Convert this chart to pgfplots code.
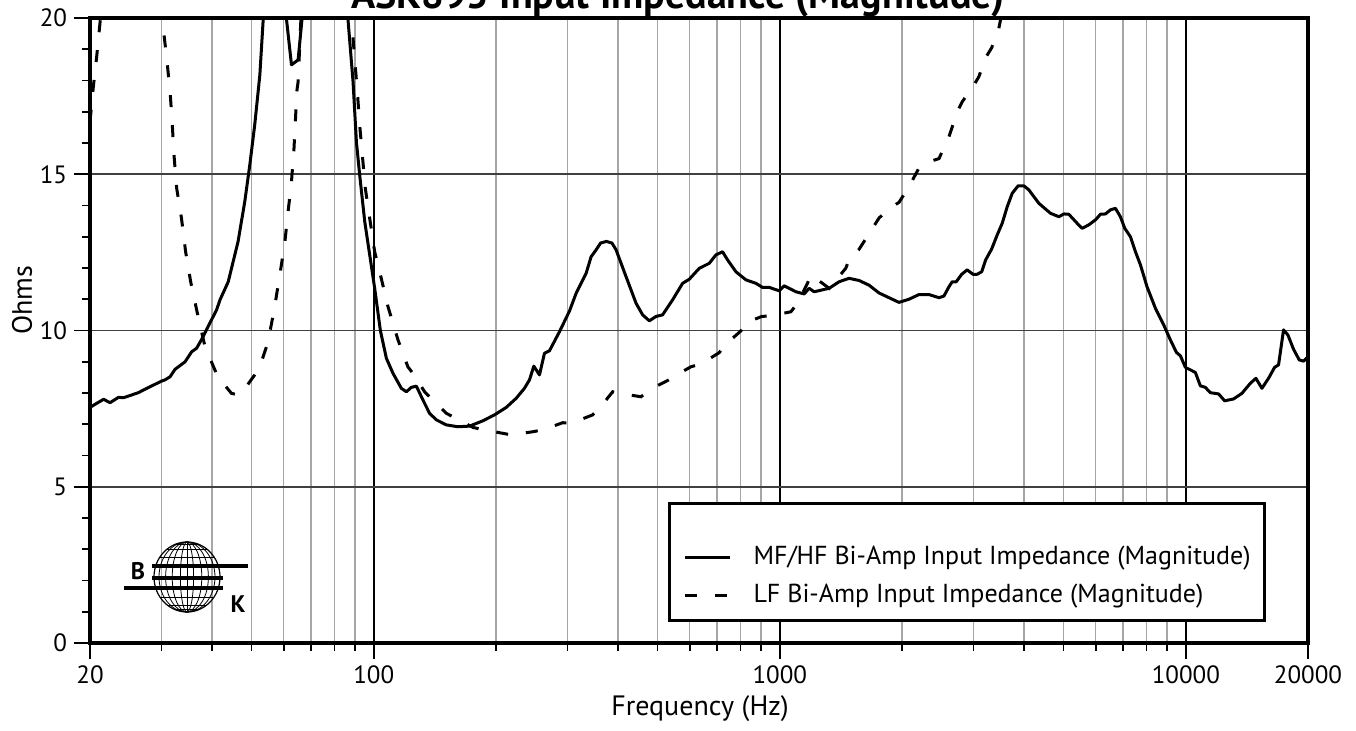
\documentclass[border=0pt]{standalone}
\usepackage{fontspec}
\setmainfont{PT Sans}
\usepackage{pgfplots}
\pgfplotsset{compat=1.18}
\begin{document}
\begin{tikzpicture}
\begin{axis}[
  scale only axis, width=609pt, height=312.5pt,
  xmode=log, xmin=20, xmax=20000, ymin=0, ymax=20,
  xtick={20,100,1000,10000,20000},
  xticklabels={20,100,1000,10000,20000},
  minor xtick={30,40,50,60,70,80,90,200,300,400,500,600,700,800,900,2000,3000,4000,5000,6000,7000,8000,9000},
  ytick={0,5,10,15,20},
  minor ytick={1,2,3,4,6,7,8,9,11,12,13,14,16,17,18,19},
  xmajorgrids, xminorgrids, ymajorgrids,
  major x grid style={black, line width=0.9pt},
  minor x grid style={black!35, line width=0.75pt},
  major y grid style={black!75, line width=0.9pt},
  tick align=outside, xtick pos=bottom, ytick pos=left,
  major tick length=8pt, minor tick length=4pt,
  major tick style={black, line width=0.8pt},
  minor tick style={black, line width=0.8pt},
  axis line style={line width=1.7pt},
  tick label style={font=\fontsize{12.5}{14}\selectfont},
  /pgf/number format/assume math mode=true,
  legend style={at={(rel axis cs:0.9655,0.034)}, anchor=south east,
    draw=black, line width=1.4pt, fill=white,
    inner xsep=7pt, inner ysep=7.3pt, row sep=8.2pt, column sep=11pt,
    nodes={inner sep=0pt},
    font=\fontsize{13}{15}\selectfont, cells={anchor=west}},
  legend image code/.code={\draw[#1] (0pt,0pt) -- (22.5pt,0pt);},
]
\coordinate (ll) at (rel axis cs:0,0);
\addlegendimage{empty legend}
\addlegendentry{\rule{0pt}{4.6pt}}
\addplot[black, line width=1.5pt, line join=round] coordinates {
(20,7.54)(21.6,7.80)(22.4,7.69)(23.5,7.86)(24.2,7.85)(26.3,8.01)(27.6,8.15)(30.0,8.38)(30.6,8.42)(31.5,8.52)(32.4,8.76)(34.3,9.00)(35.6,9.32)(36.6,9.43)(37.7,9.72)(38.7,10.02)(41.0,10.66)(41.8,10.98)(43.8,11.56)(46.3,12.84)(48.1,14.12)(49.5,15.30)(50.9,16.58)(52.4,18.18)(53.4,19.94)(55,23)(57.5,28)(60,23)(60.9,20)(62.7,18.5)(65.1,18.66)(66.6,20)(69,22)(76,30)(84,22)(86.4,19.94)(88.9,17.96)(90.6,16.04)(92.3,14.98)(95.0,13.48)(97.7,12.42)(100.5,11.35)(103.8,10.0)(107.4,9.11)(111.5,8.63)(116.9,8.15)(120.3,8.04)(123.7,8.18)(127.3,8.22)(132.1,7.78)(137.2,7.35)(142.6,7.14)(150.9,6.98)(161.1,6.92)(172.1,6.94)(185.6,7.11)(198.3,7.30)(212,7.54)(224.2,7.83)(235,8.15)(241.8,8.42)(247.8,8.86)(255.9,8.58)(263.2,9.27)(270.8,9.35)(286.6,9.96)(303.3,10.62)(315.0,11.19)(333.4,11.83)(343.0,12.36)(352.8,12.58)(362,12.8)(374,12.85)(386,12.8)(395.2,12.58)(418.2,11.72)(442.6,10.87)(459.4,10.50)(477.2,10.31)(495.6,10.45)(514.4,10.50)(544.4,10.98)(576.2,11.51)(598.4,11.64)(633.4,11.99)(670.2,12.15)(696.2,12.42)(722.8,12.52)(743.6,12.26)(779.8,11.88)(825.2,11.62)(873.2,11.51)(906.4,11.38)(941.6,11.38)(996.4,11.27)(1025,11.43)(1095.4,11.24)(1148.2,11.17)(1181,11.35)(1215,11.24)(1323,11.35)(1399.6,11.56)(1481,11.67)(1568,11.6)(1659,11.45)(1756,11.2)(1858,11.05)(1966,10.9)(2080,11.0)(2202,11.15)(2330,11.15)(2466,11.05)(2536,11.1)(2610,11.40)(2658,11.56)(2720,11.56)(2806,11.80)(2894,11.94)(2990,11.80)(3064,11.80)(3142,11.88)(3214,12.26)(3326,12.61)(3432,13.06)(3530,13.43)(3632,13.96)(3736,14.39)(3864,14.63)(3992,14.63)(4106,14.50)(4346,14.07)(4472,13.93)(4644,13.75)(4868,13.64)(5008,13.73)(5150,13.72)(5400,13.43)(5554,13.27)(5768,13.38)(5992,13.54)(6164,13.72)(6340,13.73)(6522,13.86)(6710,13.91)(6902,13.64)(7074,13.27)(7306,13.0)(7516,12.52)(7732,12.10)(8026,11.40)(8418,10.71)(8822,10.18)(9162,9.70)(9480,9.30)(9698,9.19)(9976,8.82)(10556,8.66)(10860,8.23)(11172,8.18)(11492,8.01)(12046,7.97)(12464,7.75)(13116,7.81)(13750,7.99)(14418,8.31)(14884,8.47)(15398,8.15)(15990,8.47)(16544,8.82)(16922,8.90)(17408,10.02)(17840,9.86)(18424,9.40)(19030,9.06)(19496,9.02)(20000,9.16)
};
\addlegendentry{MF/HF Bi-Amp Input Impedance (Magnitude)\hspace{5pt}}
\addplot[black, line width=1.5pt, dash pattern=on 6pt off 9pt] coordinates {
(20,16.68)(20.38,17.8)(20.77,18.76)(21.16,19.83)(22,22)(26,30)(29.5,22)(30.1,20)(30.9,18.71)(31.5,17.64)(31.9,16.58)(32.2,15.62)(32.7,14.55)(33.6,13.59)(34.4,12.52)(35.4,11.56)(36.7,10.60)(38.4,9.48)(40.6,8.74)(41.4,8.50)(44.6,7.99)(46.3,7.94)(47.2,7.99)(50.9,8.58)(52.4,8.84)(54.4,9.48)(55.4,9.91)(56.8,10.65)(58.7,11.78)(60.4,12.84)(61.5,13.80)(62.7,14.76)(63.6,15.83)(64.1,16.68)(64.6,17.64)(65.1,17.96)(66.1,19.88)(68,22)(76,30)(86,22)(88.1,20)(89.7,18.71)(91.1,17.64)(92.3,16.58)(93.7,15.62)(95.3,14.55)(97.7,13.59)(100.5,12.52)(104.8,11.56)(108.4,10.76)(114.7,9.70)(121.3,8.84)(124.8,8.63)(133.4,8.04)(137.2,7.88)(150.9,7.35)(156.6,7.24)(175.4,6.90)(183.9,6.84)(207.8,6.71)(218.0,6.66)(246.4,6.76)(260.8,6.82)(292.0,7.05)(306.2,7.03)(346.0,7.30)(359.4,7.51)(387.6,8.04)(402.6,7.99)(455.2,7.88)(477.2,8.10)(529.2,8.40)(549.8,8.54)(604.4,8.84)(639.6,8.93)(709.2,9.29)(733.8,9.54)(802.2,9.99)(825.2,10.25)(903.4,10.45)(950.6,10.47)(1064.8,10.60)(1105.4,10.87)(1169.8,11.51)(1192.4,11.78)(1273.6,11.51)(1323,11.35)(1453.6,11.99)(1481,12.26)(1568,12.6)(1659,13.1)(1756,13.6)(1858,13.9)(1966,14.1)(2080,14.6)(2202,15.2)(2330,15.4)(2466,15.5)(2610,16.2)(2736,17.0)(2814,17.32)(2990,17.8)(3092,18.12)(3214,18.73)(3326,19.05)(3464,19.67)(3500,19.97)(4000,25)(20000,45)
};
\addlegendentry{LF Bi-Amp Input Impedance (Magnitude)}
\end{axis}
% labels
\node[anchor=base, font=\bfseries\fontsize{20}{24}\selectfont] at ([xshift=294pt,yshift=317pt]ll) {ASK895 Input Impedance (Magnitude)};
\node[anchor=base, font=\fontsize{14}{16}\selectfont] at ([xshift=305pt,yshift=-36pt]ll) {Frequency (Hz)};
\node[rotate=90, anchor=center, font=\fontsize{14}{16}\selectfont] at ([xshift=-34pt,yshift=171.5pt]ll) {Ohms};
% logo
\begin{scope}[shift={(ll)}]
  \begin{scope}
    \clip (48.5pt,33pt) ellipse [x radius=16.5pt, y radius=17.5pt];
    \foreach \dy in {-16.3,-14,-10,-5,0,5,10,14,16.3} {
      \draw[line width=0.4pt] (30pt,33pt+\dy pt) -- (67pt,33pt+\dy pt);
    }
  \end{scope}
  \draw[line width=0.6pt] (48.5pt,33pt) ellipse [x radius=16.5pt, y radius=17.5pt];
  \foreach \f in {3.3,7.4,10.7,14.0} {
    \draw[line width=0.4pt] (48.5pt,33pt) ellipse [x radius=\f pt, y radius=17.5pt];
  }
  \draw[line width=0.4pt] (48.5pt,15.5pt) -- (48.5pt,50.5pt);
  \fill[black] (31pt,37.3pt) rectangle (79pt,39.7pt);
  \fill[black] (31pt,31.3pt) rectangle (66.5pt,33.7pt);
  \fill[black] (17pt,26.3pt) rectangle (66.5pt,28.7pt);
  \node[font=\bfseries\fontsize{12}{14}\selectfont, inner sep=0pt] at (24pt,35.75pt) {B};
  \node[font=\bfseries\fontsize{12}{14}\selectfont, inner sep=0pt] at (74pt,19.5pt) {K};
\end{scope}
\pgfresetboundingbox
\path[use as bounding box] ([xshift=-45pt,yshift=-43.5pt]ll) rectangle ([xshift=633pt,yshift=321.5pt]ll);
\end{tikzpicture}
\end{document}
